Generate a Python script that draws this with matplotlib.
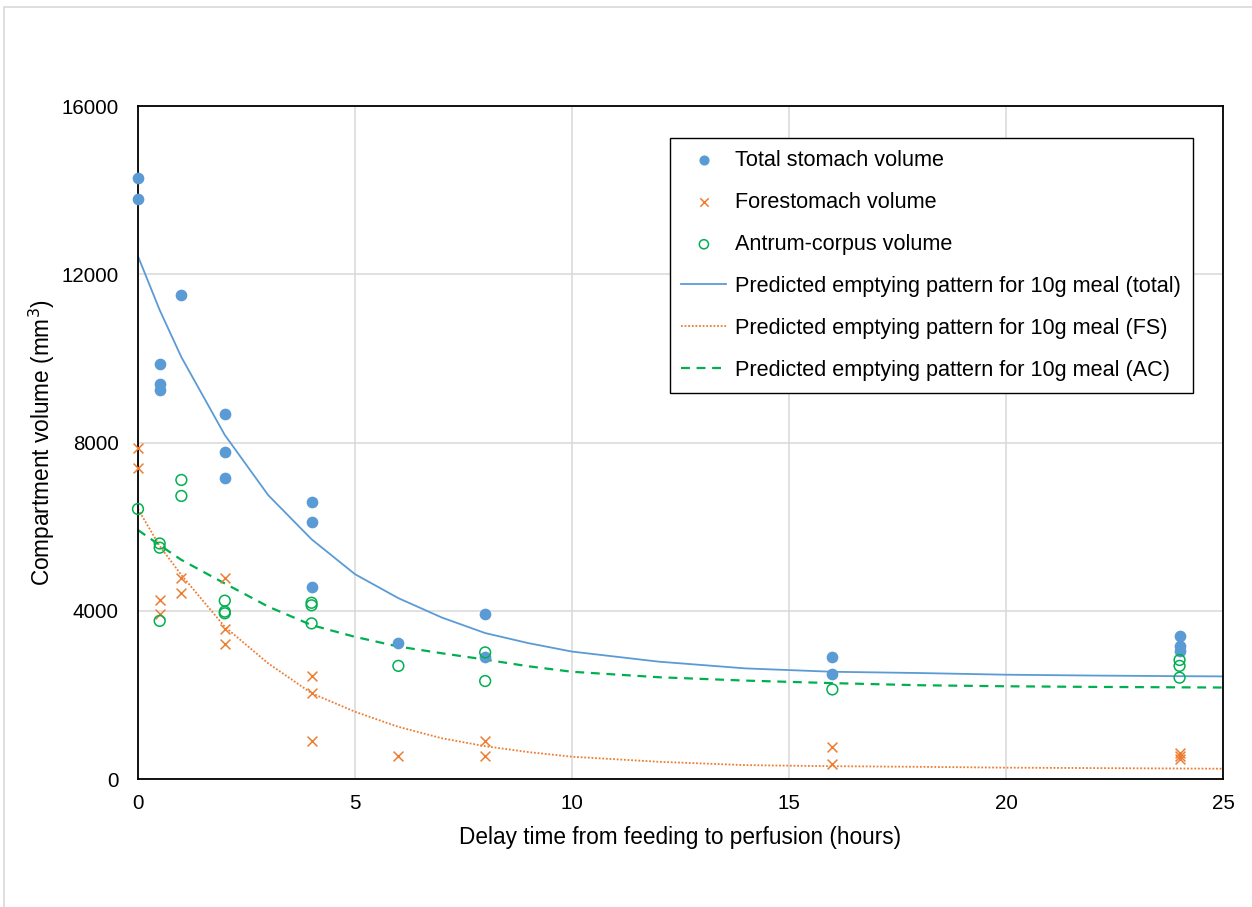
import matplotlib
matplotlib.use("Agg")
import matplotlib.pyplot as plt
from matplotlib.patches import Rectangle

plt.rcParams['font.family'] = ['Liberation Sans', 'DejaVu Sans']

# measured volumes (mm3) per delay time (hours)
total_x = [0, 0, 0.5, 0.5, 0.5, 1, 2, 2, 2, 4, 4, 4, 6, 8, 8, 16, 16, 24, 24, 24]
total_y = [14300, 13780, 9860, 9380, 9260, 11500, 8690, 7780, 7160, 6590, 6120, 4560,
           3240, 3920, 2890, 2890, 2490, 3400, 3160, 3050]

fs_x = [0, 0, 0.5, 0.5, 1, 1, 2, 2, 2, 4, 4, 4, 6, 8, 8, 16, 16, 24, 24, 24]
fs_y = [7880, 7390, 4250, 3920, 4790, 4430, 4790, 3570, 3210, 2450, 2040, 900,
        550, 910, 550, 760, 350, 625, 555, 475]

ac_x = [0, 0.5, 0.5, 0.5, 1, 1, 2, 2, 2, 4, 4, 4, 6, 8, 8, 16, 24, 24, 24]
ac_y = [6420, 5600, 5500, 3760, 7110, 6730, 4240, 3980, 3940, 4190, 4130, 3700,
        2690, 3010, 2330, 2130, 2830, 2690, 2410]

# predicted emptying curves
pred_x = [0, 0.5, 1, 2, 3, 4, 5, 6, 7, 8, 9, 10, 12, 14, 16, 18, 20, 22, 24, 25]
pred_total = [12430, 11150, 10030, 8180, 6750, 5700, 4870, 4300, 3840, 3470, 3230, 3030,
              2790, 2630, 2550, 2520, 2480, 2460, 2445, 2440]
pred_fs = [6420, 5540, 4850, 3620, 2750, 2040, 1600, 1240, 970, 780, 640, 530,
           410, 330, 305, 290, 270, 260, 250, 245]
pred_ac = [5920, 5560, 5210, 4650, 4100, 3660, 3380, 3150, 2990, 2840, 2680, 2550,
           2420, 2340, 2280, 2230, 2205, 2190, 2180, 2175]

blue = '#5B9BD5'
orange = '#ED7D31'
green = '#00B050'

fig = plt.figure(figsize=(12.52, 9.07), dpi=100)
fig.patches.append(Rectangle((4 / 1252, -0.1), 1.1, 1.1 - 7 / 907, transform=fig.transFigure,
                             fill=False, edgecolor='#D9D9D9', linewidth=1.2))
ax = fig.add_axes([0.1102, 0.1411, 0.8666, 0.742])

ax.scatter(total_x, total_y, s=55, color=blue, label='Total stomach volume',
           zorder=3, clip_on=False)
ax.scatter(fs_x, fs_y, s=50, marker='x', color=orange, linewidths=1.1,
           label='Forestomach volume', zorder=3, clip_on=False)
ax.scatter(ac_x, ac_y, s=60, facecolors='none', edgecolors=green, linewidths=1.1,
           label='Antrum-corpus volume', zorder=3, clip_on=False)
ax.plot(pred_x, pred_total, color=blue, lw=1.3,
        label='Predicted emptying pattern for 10g meal (total)', zorder=2)
ax.plot(pred_x, pred_fs, color=orange, lw=1.3, linestyle=(0, (1, 1)),
        label='Predicted emptying pattern for 10g meal (FS)', zorder=2)
ax.plot(pred_x, pred_ac, color=green, lw=1.6, linestyle=(0, (4, 3)),
        label='Predicted emptying pattern for 10g meal (AC)', zorder=2)

ax.set_xlim(0, 25)
ax.set_ylim(0, 16000)
ax.set_xticks([0, 5, 10, 15, 20, 25])
ax.set_yticks([0, 4000, 8000, 12000, 16000])
ax.grid(True, color='#D9D9D9', lw=1.1)
ax.set_axisbelow(True)
ax.tick_params(length=0, labelsize=14.8, pad=14)
ax.tick_params(axis='x', pad=11)
for sp in ax.spines.values():
    sp.set_color('black')
    sp.set_linewidth(1.3)

ax.set_xlabel('Delay time from feeding to perfusion (hours)', fontsize=16.3, labelpad=9)
ax.set_ylabel('Compartment volume (mm$^3$)', fontsize=16.3, labelpad=3)

leg = ax.legend(loc='upper right', bbox_to_anchor=(0.9724, 0.9525), fontsize=15.6,
                frameon=True, fancybox=False, framealpha=1, edgecolor='black',
                labelspacing=0.97, handlelength=2.07, handletextpad=0.41, borderpad=0.55,
                borderaxespad=0, scatterpoints=1, markerscale=0.85)
leg.get_frame().set_linewidth(1.0)

fig.savefig('out.png', dpi=100)
